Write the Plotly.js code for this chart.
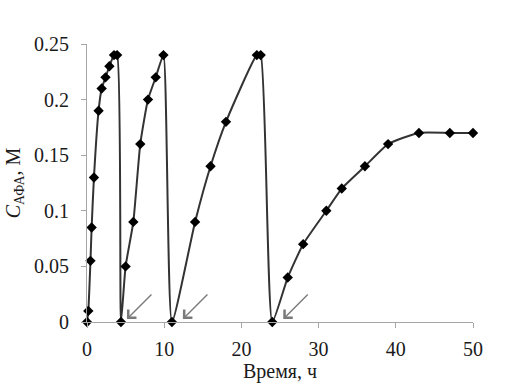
<!DOCTYPE html>
<html>
<head>
<meta charset="utf-8">
<script src="https://cdn.plot.ly/plotly-3.0.1.min.js"></script>
<style>
  html, body { margin: 0; padding: 0; background: #fff; }
  #chart { width: 505px; height: 386px; }
</style>
</head>
<body>
<div id="chart"></div>
<script>
// Time, h
const timeH = [0, 0.17, 0.45, 0.6, 0.9, 1.5, 1.9, 2.4, 2.9, 3.5, 3.9, 4.4,
  5.0, 6.0, 6.9, 7.9, 8.9, 9.9, 11.0,
  14.0, 16.0, 18.0, 22.0, 22.5, 24.0,
  26.0, 28.0, 31.0, 33.0, 36.0, 39.0, 43.0, 47.0, 50.0];
// Concentration C_AFA, M
const concM = [0, 0.01, 0.055, 0.085, 0.13, 0.19, 0.21, 0.22, 0.23, 0.24, 0.24, 0,
  0.05, 0.09, 0.16, 0.20, 0.22, 0.24, 0,
  0.09, 0.14, 0.18, 0.24, 0.24, 0,
  0.04, 0.07, 0.10, 0.12, 0.14, 0.16, 0.17, 0.17, 0.17];
// Refill moments marked by arrows
const refillTimes = [4.4, 11.0, 24.0];
const xTicks = [0, 10, 20, 30, 40, 50];
const yTicks = [0, 0.05, 0.1, 0.15, 0.2, 0.25];
const yTickText = ['0', '0.05', '0.1', '0.15', '0.2', '0.25'];

const arrowShift = [6, 11, 11];

const trace = {
  x: timeH, y: concM, type: 'scatter', mode: 'lines+markers',
  line: {color: '#333333', width: 2, shape: 'spline', smoothing: 0.5},
  marker: {symbol: 'diamond', size: 8, color: '#000000'},
  cliponaxis: false, hoverinfo: 'none'
};

const SERIF = 'Liberation Serif';
function mkFont() { return {family: SERIF, size: 20, color: '#1a1a1a'}; }

const annotations = refillTimes.map((t, i) => ({
  x: t, y: 0, xref: 'x', yref: 'y', text: '',
  xshift: arrowShift[i], yshift: 3,
  showarrow: true, arrowhead: 4, arrowsize: 1.6, arrowwidth: 1.4,
  arrowcolor: '#7a7a7a', ax: 26, ay: -26, standoff: 0
}));

const layout = {
  width: 505, height: 386,
  margin: {l: 87, r: 32, t: 44, b: 64, pad: 0},
  paper_bgcolor: '#ffffff', plot_bgcolor: '#ffffff',
  font: mkFont(), showlegend: false,
  xaxis: {
    range: [0, 50], tickmode: 'array', tickvals: xTicks, ticktext: xTicks.map(String),
    showgrid: false, zeroline: false, showline: true,
    linecolor: '#a6a6a6', linewidth: 1,
    ticks: 'outside', ticklen: 5, tickcolor: '#a6a6a6', tickwidth: 1,
    tickfont: mkFont(), ticklabelstandoff: 4,
    title: {text: 'Время, ч', font: mkFont(), standoff: 4},
    fixedrange: true
  },
  yaxis: {
    range: [0, 0.25], tickmode: 'array', tickvals: yTicks, ticktext: yTickText,
    showgrid: false, zeroline: false, showline: true,
    linecolor: '#a6a6a6', linewidth: 1,
    ticks: 'outside', ticklen: 5, tickcolor: '#a6a6a6', tickwidth: 1,
    tickfont: mkFont(), ticklabelstandoff: 8,
    title: {text: '<i>C</i><sub>АФА</sub>, М', font: mkFont(), standoff: 8},
    fixedrange: true
  },
  annotations: annotations
};

Plotly.newPlot('chart', [trace], layout, {staticPlot: true, displayModeBar: false});
</script>
</body>
</html>
